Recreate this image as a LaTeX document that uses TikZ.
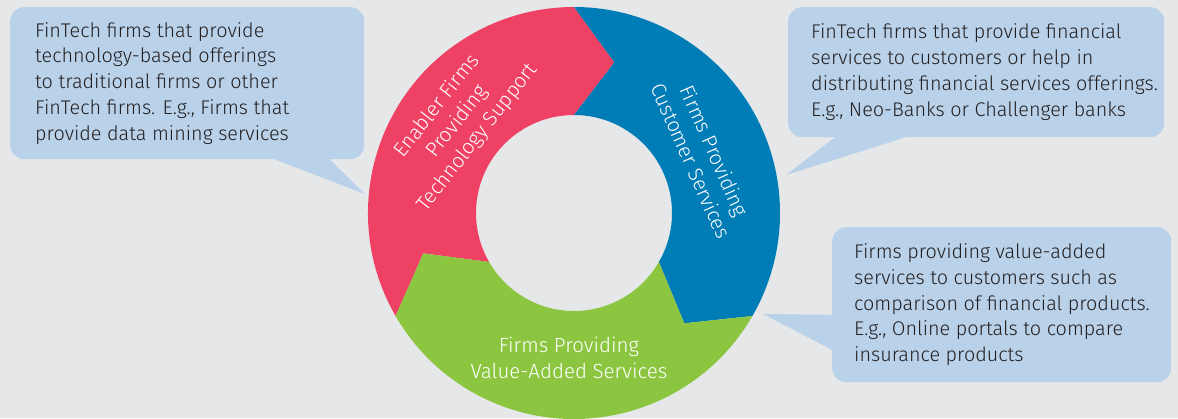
\documentclass[tikz,border=0pt]{standalone}
\usepackage{fontspec}
\IfFontExistsTF{Fira Sans Light}{\setmainfont{Fira Sans Light}}{\setmainfont{Fira Sans}}
\usetikzlibrary{calc}
\definecolor{bgc}{HTML}{E6E7E9}
\definecolor{redc}{HTML}{EF4164}
\definecolor{bluec}{HTML}{007CB7}
\definecolor{greenc}{HTML}{8CC640}
\definecolor{bubc}{HTML}{B9D1E9}
\definecolor{txtc}{HTML}{231F20}
\begin{document}
\begin{tikzpicture}[x=1pt,y=1pt,
  bubblebox/.style={fill=bubc, rounded corners=14pt, anchor=north west, inner sep=0pt},
  bubbletext/.style={anchor=west, align=left, inner sep=0pt, text=txtc, font=\fontsize{19.8}{25.8}\selectfont},
  ringtext/.style={align=center, inner sep=0pt, text=white, font=\fontsize{20.5}{25.5}\selectfont}]
\useasboundingbox (0,0) rectangle (1178,-418);
\fill[bgc] (0,0) rectangle (1178,-418);
\coordinate (C) at (574,-213);
% ring segments
\fill[redc] ($(C)+(210:206)$) arc[start angle=210,end angle=90,radius=206pt]
  -- ($(C)+(75:156)$) -- ($(C)+(90:98)$) arc[start angle=90,end angle=210,radius=98pt]
  -- ($(C)+(195:156)$) -- cycle;
\fill[bluec] ($(C)+(90:206)$) arc[start angle=90,end angle=-30,radius=206pt]
  -- ($(C)+(-45:156)$) -- ($(C)+(-30:98)$) arc[start angle=-30,end angle=90,radius=98pt]
  -- ($(C)+(75:156)$) -- cycle;
\fill[greenc] ($(C)+(-30:206)$) arc[start angle=-30,end angle=-150,radius=206pt]
  -- ($(C)+(-165:156)$) -- ($(C)+(-150:98)$) arc[start angle=-150,end angle=-30,radius=98pt]
  -- ($(C)+(-45:156)$) -- cycle;
% ring labels
\node[ringtext, rotate=52] (rl) at ($(C)+(142:148)$) {Enabler Firms\\Providing\\Technology Support};
\node[ringtext, rotate=-66] (bl) at ($(C)+(24:141)$) {Firms Providing\\Customer Services};
\node[ringtext] (gl) at ($(C)+(-92:145)$) {Firms Providing\\Value-Added Services};
% callout boxes
\node[bubblebox, minimum width=354pt, minimum height=152pt] (b1) at (10,-7) {};
\node[bubblebox, minimum width=376pt, minimum height=130pt] (b2) at (788,-7) {};
\node[bubblebox, minimum width=339pt, minimum height=155pt] (b3) at (832,-227) {};
% tails
\coordinate (p1) at (365,-194);
\coordinate (p2) at (786,-175);
\coordinate (p3) at (763,-314);
\fill[bubc] (250,-150) -- (p1) -- (320,-150) -- cycle;
\fill[bubc] (847,-128) -- (p2) -- (935,-128) -- cycle;
\fill[bubc] (842,-315) -- (p3) -- (842,-355) -- cycle;
% callout texts
\node[bubbletext] (t1) at ($(b1.west)+(25,0)$) {FinTech firms that provide\\technology-based offerings\\to traditional firms or other\\FinTech firms. E.g., Firms that\\provide data mining services};
\node[bubbletext] (t2) at ($(b2.west)+(23,0)$) {FinTech firms that provide financial\\services to customers or help in\\distributing financial services offerings.\\E.g., Neo-Banks or Challenger banks};
\node[bubbletext] (t3) at ($(b3.west)+(22,0)$) {Firms providing value-added\\services to customers such as\\comparison of financial products.\\E.g., Online portals to compare\\insurance products};
\end{tikzpicture}
\end{document}
